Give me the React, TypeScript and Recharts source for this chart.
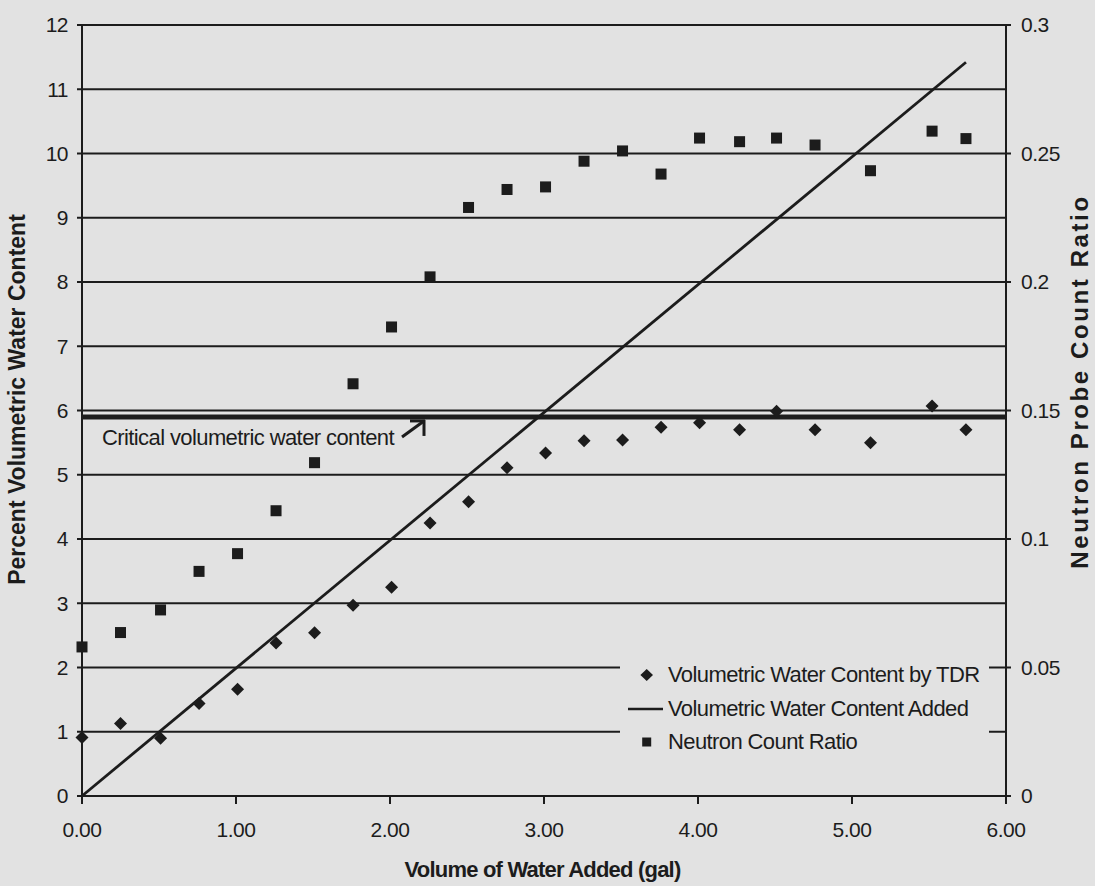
import {
  ComposedChart,
  Scatter,
  Line,
  XAxis,
  YAxis,
  CartesianGrid,
  ReferenceLine,
  Legend,
  Label,
} from "recharts";

// gallons added at each reading
const volumeGal = [0, 0.25, 0.51, 0.76, 1.01, 1.26, 1.51, 1.76, 2.01, 2.26, 2.51, 2.76, 3.01, 3.26, 3.51, 3.76, 4.01, 4.27, 4.51, 4.76, 5.12, 5.52, 5.74];
// % volumetric water content measured by TDR
const tdrPercent = [0.91, 1.13, 0.9, 1.44, 1.66, 2.38, 2.54, 2.97, 3.25, 4.25, 4.58, 5.11, 5.34, 5.53, 5.54, 5.74, 5.81, 5.7, 5.99, 5.7, 5.5, 6.07, 5.7];
// neutron probe count ratio (right axis)
const neutronRatio = [0.058, 0.0636, 0.0724, 0.0874, 0.0943, 0.111, 0.1297, 0.1604, 0.1825, 0.202, 0.229, 0.236, 0.237, 0.247, 0.251, 0.242, 0.256, 0.2546, 0.256, 0.2533, 0.2433, 0.2587, 0.2558];
// volumetric water content added (straight line endpoints)
const addedX = [0, 5.74];
const addedY = [0, 11.42];

const criticalContent = 5.9;

const leftTicks = [0, 1, 2, 3, 4, 5, 6, 7, 8, 9, 10, 11, 12];
const rightTicks = [0, 0.05, 0.1, 0.15, 0.2, 0.25, 0.3];
const xTicks = [0, 1, 2, 3, 4, 5, 6];

const seriesNames = [
  "Volumetric Water Content by TDR",
  "Volumetric Water Content Added",
  "Neutron Count Ratio",
];

const tdrData = volumeGal.map((x, i) => ({ x, y: tdrPercent[i] }));
const neutronData = volumeGal.map((x, i) => ({ x, y: neutronRatio[i] }));
const addedData = addedX.map((x, i) => ({ x, y: addedY[i] }));

const INK = "#1c1c1c";
const PAPER = "#e2e2e2";
const FONT = '"Liberation Sans", Arial, sans-serif';

const tickStyle = { fill: INK, fontSize: 21, fontFamily: FONT, letterSpacing: -0.5 };

function Diamond({ cx, cy }: any) {
  if (cx == null || cy == null) return null;
  const r = 6.5;
  return <polygon points={`${cx},${cy - r} ${cx + r},${cy} ${cx},${cy + r} ${cx - r},${cy}`} fill={INK} />;
}

function Square({ cx, cy }: any) {
  if (cx == null || cy == null) return null;
  const r = 5.5;
  return <rect x={cx - r} y={cy - r} width={r * 2} height={r * 2} fill={INK} />;
}

function CriticalLabel({ viewBox }: any) {
  if (!viewBox) return null;
  const { x, y } = viewBox;
  return (
    <g>
      <text
        x={x + 20}
        y={y + 28}
        fill={INK}
        fontSize={22}
        fontFamily={FONT}
        letterSpacing={-0.6}
      >
        Critical volumetric water content
      </text>
      <g stroke={INK} strokeWidth={3} fill="none">
        <line x1={x + 320} y1={y + 20} x2={x + 342} y2={y + 4} />
        <line x1={x + 328} y1={y + 4} x2={x + 343} y2={y + 4} />
        <line x1={x + 342} y1={y + 3} x2={x + 342} y2={y + 19} />
      </g>
    </g>
  );
}

function LegendBox() {
  return (
    <div style={{ background: PAPER, padding: "8px 0 12px 4px", fontFamily: FONT }}>
      {seriesNames.map((name, i) => (
        <div key={name} style={{ display: "flex", alignItems: "center", height: 34, marginTop: i === 2 ? -1 : 0 }}>
          <svg width={44} height={20}>
            {i === 0 && <polygon points="22.7,4 29,10 22.7,16 16.4,10" fill={INK} />}
            {i === 1 && <line x1={4} y1={10} x2={39} y2={10} stroke={INK} strokeWidth={2.5} />}
            {i === 2 && <rect x={18.2} y={5.5} width={9} height={9} fill={INK} />}
          </svg>
          <span style={{ fontSize: 22, letterSpacing: -0.6, color: INK, whiteSpace: "nowrap" }}>{name}</span>
        </div>
      ))}
    </div>
  );
}

export default function App() {
  return (
    <div style={{ position: "absolute", left: 0, top: 0, width: 1095, height: 886, background: PAPER }}>
      <ComposedChart width={1095} height={886} margin={{ top: 25, right: 0, bottom: 0, left: 0 }}>
        <CartesianGrid yAxisId="left" vertical={false} stroke={INK} strokeWidth={2} />
        <XAxis
          dataKey="x"
          type="number"
          domain={[0, 6]}
          ticks={xTicks}
          tickFormatter={(v) => v.toFixed(2)}
          height={90}
          stroke={INK}
          strokeWidth={2}
          tickSize={8}
          tickMargin={18}
          tick={tickStyle}
          allowDuplicatedCategory={false}
        >
          <Label
            content={({ viewBox }: any) => (
              <text
                x={viewBox.x + viewBox.width / 2 - 1.5}
                y={viewBox.y + 81}
                textAnchor="middle"
                fill={INK}
                fontSize={22}
                fontWeight="bold"
                fontFamily={FONT}
                letterSpacing={-0.8}
              >
                Volume of Water Added (gal)
              </text>
            )}
          />
        </XAxis>
        <YAxis
          yAxisId="left"
          type="number"
          domain={[0, 12]}
          ticks={leftTicks}
          width={82}
          stroke={INK}
          strokeWidth={2}
          tickSize={5}
          tickMargin={9}
          tick={tickStyle}
        >
          <Label
            content={({ viewBox }: any) => {
              const cx = viewBox.x + 17;
              const cy = viewBox.y + viewBox.height / 2 - 11;
              return (
                <text
                  x={cx}
                  y={cy}
                  transform={`rotate(-90, ${cx}, ${cy})`}
                  textAnchor="middle"
                  dominantBaseline="central"
                  fill={INK}
                  fontSize={23}
                  fontWeight="bold"
                  fontFamily={FONT}
                >
                  Percent Volumetric Water Content
                </text>
              );
            }}
          />
        </YAxis>
        <YAxis
          yAxisId="right"
          orientation="right"
          type="number"
          domain={[0, 0.3]}
          ticks={rightTicks}
          width={89}
          stroke={INK}
          strokeWidth={2}
          tickSize={5}
          tickMargin={10}
          tick={tickStyle}
        >
          <Label
            content={({ viewBox }: any) => {
              const cx = viewBox.x + 73;
              const cy = viewBox.y + viewBox.height / 2 - 29;
              return (
                <text
                  x={cx}
                  y={cy}
                  transform={`rotate(-90, ${cx}, ${cy})`}
                  textAnchor="middle"
                  dominantBaseline="central"
                  fill={INK}
                  fontSize={24}
                  fontWeight="bold"
                  fontFamily={FONT}
                  letterSpacing={2.6}
                >
                  Neutron Probe Count Ratio
                </text>
              );
            }}
          />
        </YAxis>

        <ReferenceLine
          yAxisId="left"
          y={criticalContent}
          stroke={INK}
          strokeWidth={5}
          label={<CriticalLabel />}
        />

        <Line
          yAxisId="left"
          data={addedData}
          dataKey="y"
          name={seriesNames[1]}
          stroke={INK}
          strokeWidth={2.8}
          dot={false}
          activeDot={false}
          isAnimationActive={false}
        />
        <Scatter
          yAxisId="left"
          data={tdrData}
          dataKey="y"
          name={seriesNames[0]}
          shape={<Diamond />}
          isAnimationActive={false}
        />
        <Scatter
          yAxisId="right"
          data={neutronData}
          dataKey="y"
          name={seriesNames[2]}
          shape={<Square />}
          isAnimationActive={false}
        />

        <Legend
          layout="horizontal"
          verticalAlign="middle"
          align="center"
          content={<LegendBox />}
          wrapperStyle={{ left: 620, top: 650, width: 369 }}
        />
      </ComposedChart>
    </div>
  );
}
